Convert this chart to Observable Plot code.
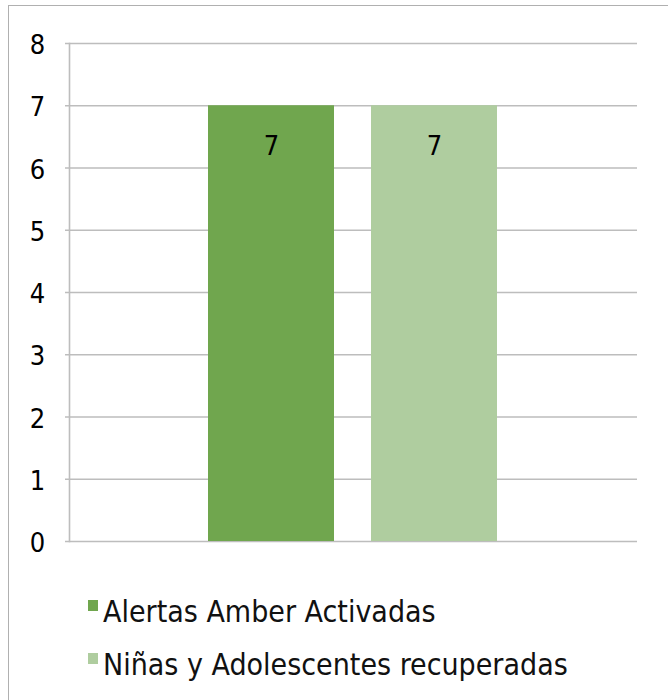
<!DOCTYPE html>
<html>
<head>
<meta charset="utf-8">
<script src="https://cdn.jsdelivr.net/npm/d3@7"></script>
<script src="https://cdn.jsdelivr.net/npm/@observablehq/plot@0.6"></script>
<style>
  html, body { margin: 0; padding: 0; background: #fff; }
  body { width: 668px; height: 700px; overflow: hidden; position: relative;
         font-family: "Liberation Sans Narrow", "DejaVu Sans", sans-serif; font-stretch: condensed; }
  #frame { position: absolute; left: 8px; top: 5px; width: 700px; height: 740px;
           border: 1.5px solid #b0b0b0; box-sizing: border-box; }
  #chart { position: absolute; left: 0; top: 0; }
  #chart svg text { font-stretch: condensed; }
  .item { position: absolute; left: 88px; height: 30px; }
  .sw { position: absolute; left: 0; width: 10px; height: 11px; }
  .lbl { position: absolute; left: 15px; top: -3px; white-space: nowrap;
         font-size: 30px; line-height: 30px; color: #111; }
</style>
</head>
<body>
<div id="frame"></div>
<div id="chart"></div>
<div id="legend"></div>
<script>
const series = ["Alertas Amber Activadas", "Niñas y Adolescentes recuperadas"];
const values = [7, 7];
const colors = ["#70a64e", "#afcd9f"];
const yTicks = [0, 1, 2, 3, 4, 5, 6, 7, 8];

const data = series.map((s, i) => ({series: s, value: values[i]}));
const font = '"Liberation Sans Narrow", "DejaVu Sans", sans-serif';

const plot = Plot.plot({
  width: 668,
  height: 560,
  marginLeft: 68,
  marginRight: 31,
  marginTop: 43,
  marginBottom: 19,
  style: {fontFamily: font, background: "transparent"},
  x: {domain: series, paddingInner: 0.227, paddingOuter: 0.856, axis: null},
  y: {domain: [0, 8], ticks: yTicks, axis: null},
  color: {domain: series, range: colors},
  marks: [
    Plot.ruleY(yTicks, {stroke: "#bdbdbd", strokeWidth: 1.6, insetLeft: -3}),
    Plot.frame({anchor: "left", stroke: "#bdbdbd", strokeWidth: 1.6, dx: 1}),
    Plot.barY(data, {x: "series", y: "value", fill: "series"}),
    Plot.axisY({ticks: yTicks, tickSize: 0, tickPadding: 0, anchor: "left", label: null, dx: -31, dy: 2,
      fontSize: 27, fill: "#000", textAnchor: "middle", tickFormat: d => String(d)}),
    Plot.text(data, {x: "series", y: "value", text: d => String(d.value), dy: 41,
      fontSize: 27, fill: "#000"})
  ]
});
document.getElementById("chart").appendChild(plot);

const legend = document.getElementById("legend");
const tops = [600, 653];
series.forEach((s, i) => {
  const item = document.createElement("div");
  item.className = "item";
  item.style.top = tops[i] + "px";
  const sw = document.createElement("span");
  sw.className = "sw";
  sw.style.background = colors[i];
  const t = document.createElement("span");
  t.className = "lbl";
  t.textContent = s;
  item.appendChild(sw);
  item.appendChild(t);
  legend.appendChild(item);
});
</script>
</body>
</html>
